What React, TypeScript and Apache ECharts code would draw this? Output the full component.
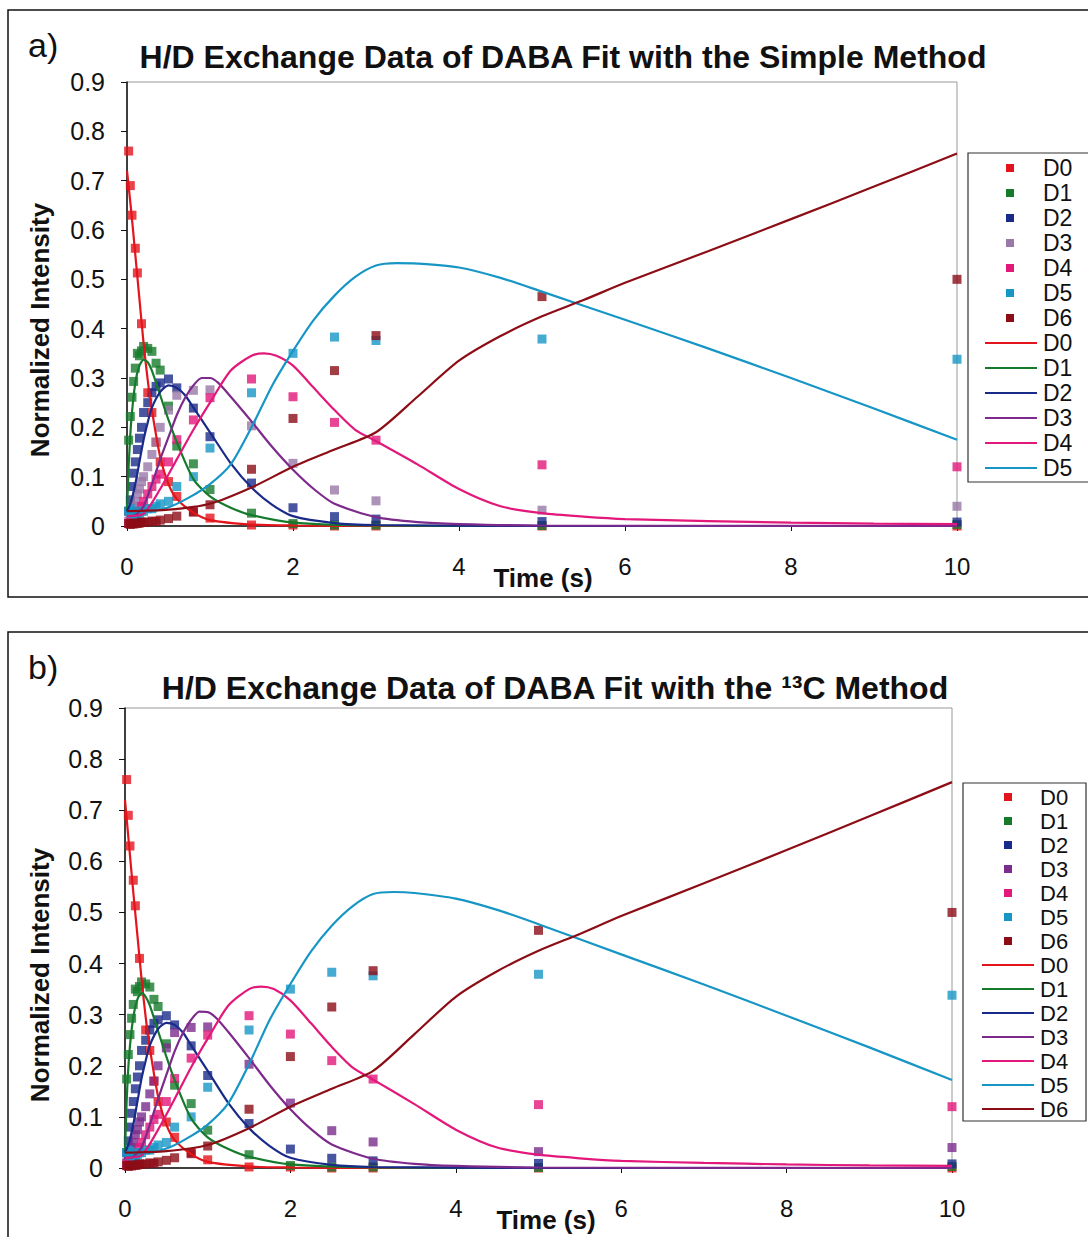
import { useEffect, useRef } from "react";
import * as echarts from "echarts";

// ---------- data ----------
const names = ["D0", "D1", "D2", "D3", "D4", "D5", "D6"];
const times = [0.02, 0.04, 0.06, 0.08, 0.1, 0.125, 0.15, 0.175, 0.2, 0.25, 0.3, 0.35, 0.4, 0.5, 0.6, 0.8, 1.0, 1.5, 2, 2.5, 3, 5, 10];

const obsD0 = [0.76, 0.69, 0.63, null, 0.563, 0.513, null, 0.41, null, 0.27, 0.23, 0.17, 0.13, 0.09, 0.06, 0.03, 0.016, 0.002, 0.002, 0, 0, 0, 0];
const obsD1 = [0.174, 0.222, 0.261, 0.293, 0.32, 0.35, 0.345, 0.355, 0.364, 0.36, 0.354, 0.33, 0.316, 0.243, 0.162, 0.126, 0.074, 0.026, 0.005, 0.002, 0.002, 0.001, 0.003];
const obsD2 = [0.03, 0.053, 0.08, 0.107, 0.13, 0.155, 0.178, 0.2, 0.23, 0.25, 0.27, 0.283, 0.29, 0.298, 0.28, 0.239, 0.181, 0.087, 0.037, 0.019, 0.014, 0.009, 0.008];
const obsD3 = [0.01, 0.02, 0.03, 0.04, 0.05, 0.065, 0.075, 0.09, 0.1, 0.12, 0.145, 0.17, 0.2, 0.235, 0.265, 0.275, 0.276, 0.203, 0.127, 0.073, 0.051, 0.032, 0.04];
const obsD4 = [0.005, 0.008, 0.012, 0.016, 0.02, 0.025, 0.03, 0.04, 0.05, 0.065, 0.08, 0.095, 0.105, 0.13, 0.175, 0.215, 0.26, 0.298, 0.262, 0.21, 0.174, 0.124, 0.12];
const obsD5 = [0.03, 0.035, 0.025, 0.03, 0.02, 0.025, 0.025, 0.03, 0.03, 0.035, 0.035, 0.04, 0.045, 0.05, 0.08, 0.1, 0.158, 0.27, 0.35, 0.383, 0.376, 0.379, 0.338];
const obsD6 = [0.005, 0.003, 0.005, 0.004, 0.006, 0.005, 0.006, 0.008, 0.007, 0.008, 0.01, 0.009, 0.012, 0.015, 0.02, 0.028, 0.043, 0.115, 0.218, 0.315, 0.386, 0.465, 0.5];

type P = [number, number][];
// fits, panel a (simple method)
const fitA_D0: P = [[0, 0.72], [0.05, 0.64], [0.1, 0.55], [0.15, 0.46], [0.2, 0.37], [0.25, 0.295], [0.3, 0.235], [0.4, 0.14], [0.5, 0.085], [0.6, 0.055], [0.8, 0.027], [1, 0.012], [1.5, 0.003], [2, 0.001], [3, 0], [5, 0], [10, 0]];
const fitA_D1: P = [[0, 0.03], [0.02, 0.12], [0.05, 0.21], [0.1, 0.29], [0.15, 0.325], [0.2, 0.337], [0.25, 0.332], [0.3, 0.315], [0.4, 0.265], [0.5, 0.215], [0.6, 0.17], [0.8, 0.095], [1, 0.06], [1.25, 0.037], [1.5, 0.022], [2, 0.007], [3, 0.001], [5, 0], [10, 0]];
const fitA_D2: P = [[0, 0.03], [0.05, 0.05], [0.1, 0.085], [0.15, 0.13], [0.2, 0.175], [0.25, 0.21], [0.3, 0.24], [0.4, 0.272], [0.5, 0.285], [0.6, 0.28], [0.7, 0.265], [0.8, 0.24], [1, 0.19], [1.25, 0.127], [1.5, 0.078], [1.75, 0.043], [2, 0.02], [2.5, 0.006], [3, 0.002], [5, 0], [10, 0]];
const fitA_D3: P = [[0, 0.02], [0.1, 0.022], [0.2, 0.04], [0.3, 0.085], [0.4, 0.135], [0.5, 0.18], [0.6, 0.225], [0.7, 0.26], [0.8, 0.285], [0.9, 0.3], [1, 0.3], [1.1, 0.29], [1.25, 0.262], [1.5, 0.212], [1.75, 0.16], [2, 0.114], [2.25, 0.075], [2.5, 0.045], [3, 0.018], [3.5, 0.008], [4, 0.004], [5, 0.001], [10, 0]];
const fitA_D4: P = [[0, 0.02], [0.2, 0.025], [0.4, 0.075], [0.6, 0.135], [0.8, 0.195], [1, 0.25], [1.25, 0.315], [1.5, 0.345], [1.65, 0.35], [1.8, 0.345], [2, 0.325], [2.25, 0.28], [2.5, 0.235], [2.75, 0.195], [3, 0.172], [3.5, 0.125], [4, 0.075], [4.5, 0.04], [5, 0.026], [5.5, 0.019], [6, 0.014], [7, 0.01], [8, 0.007], [9, 0.005], [10, 0.004]];
const fitA_D5: P = [[0, 0.03], [0.25, 0.03], [0.5, 0.038], [0.75, 0.058], [1, 0.085], [1.25, 0.125], [1.5, 0.2], [1.75, 0.285], [2, 0.355], [2.25, 0.418], [2.5, 0.467], [2.75, 0.505], [3, 0.528], [3.25, 0.533], [3.5, 0.532], [4, 0.524], [4.5, 0.503], [5, 0.475], [6, 0.418], [7, 0.36], [8, 0.3], [9, 0.238], [10, 0.175]];
const fitA_D6: P = [[0, 0.03], [0.5, 0.033], [1, 0.045], [1.5, 0.078], [2, 0.12], [2.5, 0.155], [3, 0.19], [3.5, 0.262], [4, 0.335], [4.5, 0.385], [5, 0.425], [5.5, 0.458], [6, 0.493], [7, 0.557], [8, 0.622], [9, 0.688], [10, 0.755]];

// fits, panel b (13C method)
const fitB_D0: P = [[0, 0.72], [0.05, 0.63], [0.1, 0.54], [0.15, 0.455], [0.2, 0.37], [0.25, 0.295], [0.3, 0.235], [0.4, 0.14], [0.5, 0.085], [0.6, 0.055], [0.8, 0.027], [1, 0.012], [1.5, 0.003], [2, 0.001], [3, 0], [5, 0], [10, 0]];
const fitB_D1: P = [[0, 0.03], [0.02, 0.13], [0.05, 0.22], [0.1, 0.295], [0.15, 0.33], [0.2, 0.342], [0.25, 0.335], [0.3, 0.318], [0.4, 0.268], [0.5, 0.218], [0.6, 0.172], [0.8, 0.097], [1, 0.06], [1.25, 0.037], [1.5, 0.022], [2, 0.007], [3, 0.001], [5, 0], [10, 0]];
const fitB_D2: P = [[0, 0.03], [0.05, 0.05], [0.1, 0.085], [0.15, 0.13], [0.2, 0.175], [0.25, 0.21], [0.3, 0.24], [0.4, 0.272], [0.5, 0.284], [0.6, 0.28], [0.7, 0.265], [0.8, 0.24], [1, 0.19], [1.25, 0.127], [1.5, 0.078], [1.75, 0.043], [2, 0.02], [2.5, 0.006], [3, 0.002], [5, 0], [10, 0]];
const fitB_D3: P = [[0, 0.02], [0.1, 0.022], [0.2, 0.04], [0.3, 0.085], [0.4, 0.135], [0.5, 0.182], [0.6, 0.228], [0.7, 0.264], [0.8, 0.29], [0.9, 0.306], [1, 0.305], [1.1, 0.294], [1.25, 0.266], [1.5, 0.215], [1.75, 0.162], [2, 0.115], [2.25, 0.076], [2.5, 0.046], [3, 0.018], [3.5, 0.008], [4, 0.004], [5, 0.001], [10, 0]];
const fitB_D4: P = [[0, 0.02], [0.2, 0.025], [0.4, 0.075], [0.6, 0.135], [0.8, 0.197], [1, 0.253], [1.25, 0.318], [1.5, 0.35], [1.65, 0.355], [1.8, 0.35], [2, 0.328], [2.25, 0.283], [2.5, 0.237], [2.75, 0.197], [3, 0.173], [3.5, 0.125], [4, 0.075], [4.5, 0.04], [5, 0.026], [5.5, 0.019], [6, 0.014], [7, 0.01], [8, 0.007], [9, 0.005], [10, 0.004]];
const fitB_D5: P = [[0, 0.03], [0.25, 0.03], [0.5, 0.038], [0.75, 0.058], [1, 0.085], [1.25, 0.127], [1.5, 0.203], [1.75, 0.29], [2, 0.36], [2.25, 0.424], [2.5, 0.474], [2.75, 0.512], [3, 0.536], [3.25, 0.54], [3.5, 0.538], [4, 0.527], [4.5, 0.505], [5, 0.477], [6, 0.418], [7, 0.359], [8, 0.298], [9, 0.236], [10, 0.172]];
const fitB_D6: P = [[0, 0.03], [0.5, 0.033], [1, 0.045], [1.5, 0.078], [2, 0.12], [2.5, 0.155], [3, 0.19], [3.5, 0.262], [4, 0.335], [4.5, 0.385], [5, 0.425], [5.5, 0.458], [6, 0.493], [7, 0.557], [8, 0.622], [9, 0.688], [10, 0.755]];

const xTicks = [0, 2, 4, 6, 8, 10];

// ---------- styles ----------
const FONT = "'Liberation Sans', Arial, sans-serif";
const markerColorsA = ["#e3141b", "#167a2c", "#1a2a88", "#9a78a8", "#e2187a", "#1796c6", "#8c0d16"];
const markerColorsB = ["#e3141b", "#167a2c", "#1a2a88", "#7b2c8c", "#e2187a", "#1796c6", "#8c0d16"];
const lineColors = ["#e3141b", "#167a2c", "#1a2a88", "#7d2a8c", "#e2187a", "#1796c6", "#8c0d16"];

const obsAll = [obsD0, obsD1, obsD2, obsD3, obsD4, obsD5, obsD6];
const fitsA = [fitA_D0, fitA_D1, fitA_D2, fitA_D3, fitA_D4, fitA_D5, fitA_D6];
const fitsB = [fitB_D0, fitB_D1, fitB_D2, fitB_D3, fitB_D4, fitB_D5, fitB_D6];

function obsPairs(vals: (number | null)[]) {
  const out: [number, number][] = [];
  vals.forEach((v, i) => {
    if (v !== null) out.push([times[i], v]);
  });
  return out;
}

function buildSeries(idx: number, markerColors: string[], fits: P[]) {
  const s: any[] = [];
  names.forEach((n, i) => {
    s.push({
      type: "scatter",
      name: n,
      xAxisIndex: idx,
      yAxisIndex: idx,
      symbol: "rect",
      symbolSize: 9,
      itemStyle: { color: markerColors[i] },
      data: obsPairs(obsAll[i]),
      z: 2,
    });
  });
  names.forEach((n, i) => {
    s.push({
      type: "line",
      name: n + " fit",
      xAxisIndex: idx,
      yAxisIndex: idx,
      showSymbol: false,
      symbol: "none",
      smooth: 0.25,
      lineStyle: { color: lineColors[i], width: 2.2 },
      data: fits[i],
      z: 3,
    });
  });
  return s;
}

function legendGraphics(
  box: { x: number; y: number; w: number; h: number },
  y0: number,
  step: number,
  markerX: number,
  lineX1: number,
  lineX2: number,
  textX: number,
  lineCount: number,
  markerColors: string[],
  fontSize: number
) {
  const els: any[] = [
    {
      type: "rect",
      shape: { x: box.x, y: box.y, width: box.w, height: box.h },
      style: { fill: "#fff", stroke: "#333", lineWidth: 1.2 },
      z: 10,
    },
  ];
  const textStyle = (n: string) => ({
    text: n,
    font: `${fontSize}px ${FONT}`,
    lineHeight: step - 2,
    fill: "#111",
    textAlign: "left",
    textVerticalAlign: "middle",
  });
  let k = 0;
  names.forEach((n, i) => {
    const y = y0 + k * step;
    els.push({
      type: "rect",
      shape: { x: markerX - 4, y: y - 4, width: 8, height: 8 },
      style: { fill: markerColors[i] },
      z: 11,
    });
    els.push({ type: "text", x: textX, y, style: textStyle(n), z: 11 });
    k++;
  });
  names.slice(0, lineCount).forEach((n, i) => {
    const y = y0 + k * step;
    els.push({
      type: "line",
      shape: { x1: lineX1, y1: y, x2: lineX2, y2: y },
      style: { stroke: lineColors[i], lineWidth: 2 },
      z: 11,
    });
    els.push({ type: "text", x: textX, y, style: textStyle(n), z: 11 });
    k++;
  });
  return els;
}

function axisCommon() {
  return {
    x: {
      type: "value",
      min: 0,
      max: 10,
      interval: 2,
      axisLine: { show: true, onZero: false, lineStyle: { color: "#111", width: 1.5 } },
      axisTick: { show: true, inside: false, length: 5, lineStyle: { color: "#111" } },
      axisLabel: { fontSize: 24, fontFamily: FONT, color: "#111", margin: 28, customValues: xTicks },
      splitLine: { show: false },
    },
    y: {
      type: "value",
      min: 0,
      max: 0.9,
      interval: 0.1,
      axisLine: { show: true, onZero: false, lineStyle: { color: "#111", width: 1.5 } },
      axisTick: { show: true, inside: false, length: 6, lineStyle: { color: "#111" } },
      axisLabel: {
        fontSize: 25,
        fontFamily: FONT,
        color: "#111",
        margin: 22,
        formatter: (v: number) => (Math.abs(v) < 1e-9 ? "0" : v.toFixed(1)),
      },
      splitLine: { show: false },
    },
  };
}

export default function App() {
  const ref = useRef<HTMLDivElement>(null);
  useEffect(() => {
    document.body.style.margin = "0";
    const chart = echarts.init(ref.current!, null, { renderer: "svg" });
    const a = axisCommon();
    const b = axisCommon();
    const option: any = {
      animation: false,
      backgroundColor: "#fff",
      grid: [
        { left: 127, top: 82, width: 830, height: 444, show: true, borderColor: "#999", borderWidth: 1, containLabel: false },
        { left: 125, top: 708, width: 827, height: 460, show: true, borderColor: "#999", borderWidth: 1, containLabel: false },
      ],
      xAxis: [
        { ...a.x, gridIndex: 0 },
        { ...b.x, gridIndex: 1 },
      ],
      yAxis: [
        { ...a.y, gridIndex: 0 },
        { ...b.y, gridIndex: 1 },
      ],
      series: [...buildSeries(0, markerColorsA, fitsA), ...buildSeries(1, markerColorsB, fitsB)],
      graphic: [
        // panel frames
        { type: "rect", shape: { x: 8, y: 10, width: 1100, height: 587 }, style: { fill: "none", stroke: "#111", lineWidth: 1.5 }, z: 0 },
        { type: "rect", shape: { x: 8, y: 632, width: 1100, height: 640 }, style: { fill: "none", stroke: "#111", lineWidth: 1.5 }, z: 0 },
        // panel labels
        { type: "text", x: 28, y: 45, style: { text: "a)", font: `34px ${FONT}`, fill: "#111", textAlign: "left", textVerticalAlign: "middle" } },
        { type: "text", x: 28, y: 667, style: { text: "b)", font: `34px ${FONT}`, fill: "#111", textAlign: "left", textVerticalAlign: "middle" } },
        // titles
        { type: "text", x: 563, y: 57, style: { text: "H/D Exchange Data of DABA Fit with the Simple Method", font: `bold 32px ${FONT}`, fill: "#111", textAlign: "center", textVerticalAlign: "middle" } },
        { type: "text", x: 555, y: 688, style: { text: "H/D Exchange Data of DABA Fit with the ¹³C Method", font: `bold 32px ${FONT}`, fill: "#111", textAlign: "center", textVerticalAlign: "middle" } },
        // axis names
        { type: "text", x: 40, y: 330, rotation: Math.PI / 2, style: { text: "Normalized Intensity", font: `bold 26px ${FONT}`, fill: "#111", textAlign: "center", textVerticalAlign: "middle" } },
        { type: "text", x: 40, y: 975, rotation: Math.PI / 2, style: { text: "Normalized Intensity", font: `bold 26px ${FONT}`, fill: "#111", textAlign: "center", textVerticalAlign: "middle" } },
        { type: "text", x: 543, y: 578, style: { text: "Time (s)", font: `bold 26px ${FONT}`, fill: "#111", textAlign: "center", textVerticalAlign: "middle" } },
        { type: "text", x: 546, y: 1220, style: { text: "Time (s)", font: `bold 26px ${FONT}`, fill: "#111", textAlign: "center", textVerticalAlign: "middle" } },
        // legends
        ...legendGraphics({ x: 968, y: 153, w: 140, h: 329 }, 168, 25, 1010, 985, 1037, 1043, 6, markerColorsA, 23),
        ...legendGraphics({ x: 963, y: 783, w: 123, h: 338 }, 797, 24, 1008, 982, 1034, 1040, 7, markerColorsB, 22),
      ],
    };
    chart.setOption(option);
    return () => chart.dispose();
  }, []);
  return <div ref={ref} style={{ width: 1088, height: 1237 }} />;
}
